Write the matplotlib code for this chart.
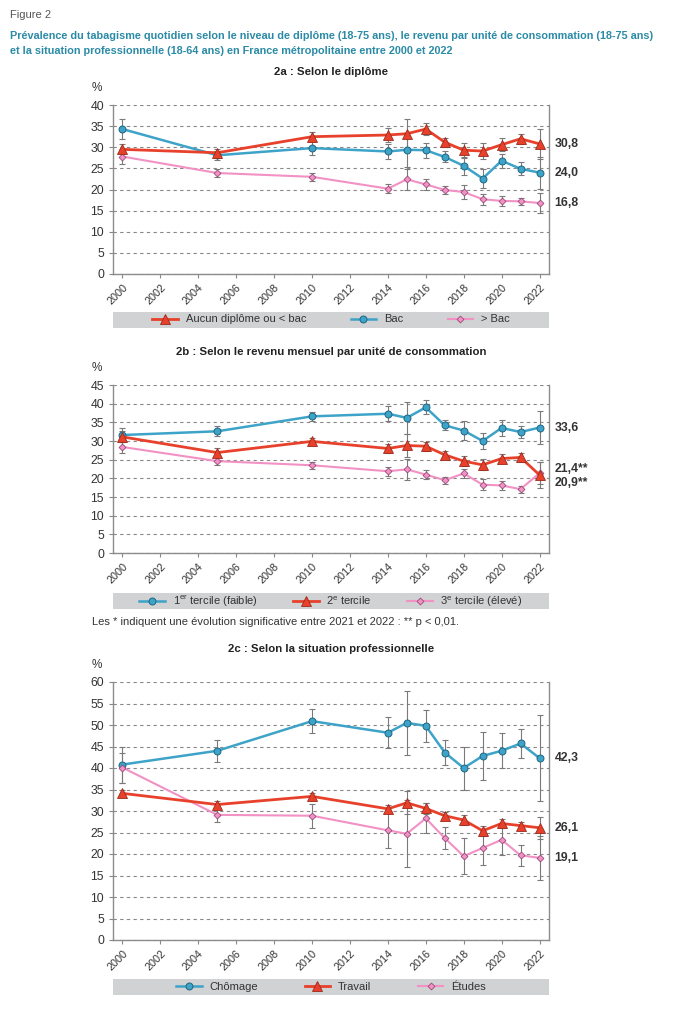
import matplotlib
matplotlib.use("Agg")
import matplotlib.pyplot as plt
from matplotlib.lines import Line2D
from matplotlib.patches import Rectangle

plt.rcParams["font.family"] = ["Liberation Sans", "DejaVu Sans"]

years = [2000, 2005, 2010, 2014, 2015, 2016, 2017, 2018, 2019, 2020, 2021, 2022]
year_ticks = list(range(2000, 2023, 2))

# 2a : diplôme
aucun = [29.5, 28.7, 32.5, 32.9, 33.2, 34.3, 31.2, 29.3, 29.1, 30.6, 32.0, 30.8]
aucun_err = [1.2, 1.0, 1.0, 1.6, 3.5, 1.5, 1.1, 1.8, 1.9, 1.6, 1.2, 3.5]
bac = [34.3, 28.1, 29.8, 29.0, 29.4, 29.3, 27.7, 25.6, 22.6, 26.8, 24.9, 24.0]
bac_err = [2.4, 1.0, 1.6, 1.7, 4.0, 1.8, 1.3, 2.1, 2.2, 1.7, 1.5, 3.8]
sup_bac = [27.8, 23.9, 23.0, 20.2, 22.4, 21.2, 19.9, 19.4, 17.7, 17.3, 17.2, 16.8]
sup_bac_err = [1.7, 1.0, 1.0, 1.1, 2.4, 1.2, 0.9, 1.6, 1.3, 1.1, 0.9, 2.4]

# 2b : revenu
tercile1 = [31.6, 32.6, 36.6, 37.3, 36.2, 39.0, 34.2, 32.8, 30.0, 33.5, 32.4, 33.6]
tercile1_err = [1.8, 1.3, 1.3, 2.0, 4.3, 1.9, 1.3, 2.5, 2.2, 2.1, 1.5, 4.5]
tercile2 = [31.1, 26.9, 29.9, 28.0, 28.8, 28.6, 26.3, 24.6, 23.6, 25.3, 25.6, 20.9]
tercile2_err = [1.5, 1.1, 1.0, 1.2, 3.2, 1.2, 1.0, 1.4, 1.5, 1.3, 1.2, 3.4]
tercile3 = [28.4, 24.6, 23.5, 21.9, 22.4, 21.0, 19.5, 21.3, 18.3, 18.1, 17.1, 21.4]
tercile3_err = [1.6, 1.0, 1.0, 1.2, 2.9, 1.1, 0.9, 1.3, 1.5, 1.2, 0.9, 3.0]

# 2c : situation professionnelle
chomage = [40.8, 44.0, 50.9, 48.2, 50.5, 49.8, 43.6, 40.0, 42.8, 44.0, 45.7, 42.3]
chomage_err = [4.2, 2.5, 2.8, 3.6, 7.4, 3.7, 2.9, 5.0, 5.5, 4.1, 3.3, 10.0]
travail = [34.1, 31.5, 33.4, 30.5, 31.9, 30.6, 28.9, 27.9, 25.4, 27.1, 26.6, 26.1]
travail_err = [0.9, 0.9, 0.9, 1.0, 2.7, 1.2, 0.8, 1.2, 1.1, 1.1, 0.8, 2.6]
etudes = [40.1, 29.1, 28.9, 25.5, 24.7, 28.3, 23.7, 19.5, 21.4, 23.3, 19.7, 19.1]
etudes_err = [3.5, 1.7, 2.8, 4.1, 7.8, 3.5, 2.5, 4.2, 4.0, 3.6, 2.5, 5.2]

RED = "#e8412b"
BLUE = "#3ea3c8"
PINK = "#f291c4"
TEAL = "#2b8ba6"
GRAYTXT = "#333333"

styles = {
    "red": dict(color=RED, marker="^", markersize=7, markerfacecolor=RED,
                markeredgecolor="#9a2a1a", markeredgewidth=0.6, linewidth=2.0),
    "blue": dict(color=BLUE, marker="o", markersize=5, markerfacecolor=BLUE,
                 markeredgecolor="#1f6680", markeredgewidth=0.7, linewidth=1.8),
    "pink": dict(color=PINK, marker="D", markersize=3.5, markerfacecolor=PINK,
                 markeredgecolor="#9a4a7a", markeredgewidth=0.6, linewidth=1.5),
}

fig = plt.figure(figsize=(6.75, 10.24), dpi=100)

fig.text(10 / 675, 1 - 15 / 1024, "Figure 2", fontsize=8, color="#555555", va="center")
fig.text(10 / 675, 1 - 36 / 1024,
         "Prévalence du tabagisme quotidien selon le niveau de diplôme (18-75 ans), le revenu par unité de consommation (18-75 ans)",
         fontsize=7.85, fontweight="bold", color=TEAL, va="center")
fig.text(10 / 675, 1 - 51 / 1024,
         "et la situation professionnelle (18-64 ans) en France métropolitaine entre 2000 et 2022",
         fontsize=7.85, fontweight="bold", color=TEAL, va="center")


def panel(top_px, bottom_px, ymax, subtitle, series, labels, label_offsets,
          legend_order, legend_y_px, colspace):
    left_px, right_px = 113, 549
    ax = fig.add_axes([left_px / 675, 1 - bottom_px / 1024,
                       (right_px - left_px) / 675, (bottom_px - top_px) / 1024])
    ax.set_xlim(1999.5, 2022.5)
    ax.set_ylim(0, ymax)
    ax.set_yticks(range(0, ymax + 1, 5))
    ax.set_xticks(year_ticks)
    ax.set_xticklabels([str(y) for y in year_ticks], rotation=45, ha="right",
                       rotation_mode="anchor", fontsize=7.8, color=GRAYTXT)
    ax.tick_params(axis="y", labelsize=8.8, colors=GRAYTXT, length=3, color="#888888", width=0.8)
    ax.tick_params(axis="x", length=3, color="#888888", width=0.8, pad=3)
    ax.grid(axis="y", linestyle=(0, (3, 3)), color="#888888", linewidth=0.8)
    ax.set_axisbelow(True)
    ax.spines["top"].set_visible(False)
    for s in ("left", "right", "bottom"):
        ax.spines[s].set_color("#8c8c8c")
        ax.spines[s].set_linewidth(1.0)

    handles = {}
    for name, (vals, errs, style) in series.items():
        ax.errorbar(years, vals, yerr=errs, fmt="none", ecolor="#7a7a7a",
                    elinewidth=0.8, capsize=2.5, capthick=0.8, zorder=2)
        ax.plot(years, vals, zorder=3 if style != "red" else 4, **styles[style])
        handles[name] = Line2D([], [], **styles[style])

    for (val, text), off in zip(labels, label_offsets):
        ax.annotate(text, xy=(1.0, val), xycoords=ax.get_yaxis_transform(),
                    xytext=(4, off), textcoords="offset points", va="center",
                    fontsize=8.8, fontweight="bold", color=GRAYTXT)

    ax.text(-0.037, 1.0 + 17 / (bottom_px - top_px), "%", transform=ax.transAxes,
            fontsize=8.5, color=GRAYTXT, ha="center", va="center")
    fig.text(331 / 675, 1 - (top_px - 33) / 1024, subtitle, fontsize=8.2,
             fontweight="bold", color="#222222", ha="center", va="center")

    # legend band
    fig.patches.append(Rectangle((left_px / 675, 1 - (legend_y_px + 8) / 1024),
                                 (right_px - left_px) / 675, 16 / 1024,
                                 transform=fig.transFigure, facecolor="#d1d2d4",
                                 edgecolor="none", zorder=0))
    fig.legend([handles[n] for n in legend_order], legend_order, loc="center",
               bbox_to_anchor=(331 / 675, 1 - legend_y_px / 1024), ncol=3,
               frameon=False, fontsize=8, handlelength=2.3, columnspacing=colspace,
               handletextpad=0.7, labelcolor=GRAYTXT)
    return ax


panel(105, 274, 40, "2a : Selon le diplôme",
      {"Aucun diplôme ou < bac": (aucun, aucun_err, "red"),
       "Bac": (bac, bac_err, "blue"),
       "> Bac": (sup_bac, sup_bac_err, "pink")},
      [(30.8, "30,8"), (24.0, "24,0"), (16.8, "16,8")], [0, 0, 0],
      ["Aucun diplôme ou < bac", "Bac", "> Bac"], 319.5, 4.0)

panel(385, 553, 45, "2b : Selon le revenu mensuel par unité de consommation",
      {"1$^{\\mathregular{er}}$ tercile (faible)": (tercile1, tercile1_err, "blue"),
       "2$^{\\mathregular{e}}$ tercile": (tercile2, tercile2_err, "red"),
       "3$^{\\mathregular{e}}$ tercile (élevé)": (tercile3, tercile3_err, "pink")},
      [(33.6, "33,6"), (21.4, "21,4**"), (20.9, "20,9**")], [0, 3, -6],
      ["1$^{\\mathregular{er}}$ tercile (faible)", "2$^{\\mathregular{e}}$ tercile",
       "3$^{\\mathregular{e}}$ tercile (élevé)"], 601, 3.2)

fig.text(92 / 675, 1 - 622 / 1024,
         "Les * indiquent une évolution significative entre 2021 et 2022 : ** p < 0,01.",
         fontsize=8, color=GRAYTXT, va="center")

panel(682, 940, 60, "2c : Selon la situation professionnelle",
      {"Chômage": (chomage, chomage_err, "blue"),
       "Travail": (travail, travail_err, "red"),
       "Études": (etudes, etudes_err, "pink")},
      [(42.3, "42,3"), (26.1, "26,1"), (19.1, "19,1")], [0, 0, 0],
      ["Chômage", "Travail", "Études"], 987, 4.2)

fig.savefig("out.png", dpi=100, facecolor="white")
